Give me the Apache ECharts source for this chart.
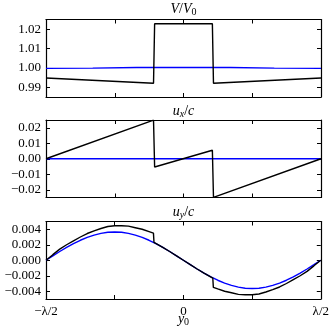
<!DOCTYPE html>
<html>
<head>
<meta charset="utf-8">
<script src="https://cdn.jsdelivr.net/npm/echarts@6/dist/echarts.min.js"></script>
<style>
  html, body { margin: 0; padding: 0; background: #fff; }
  #chart { width: 332px; height: 332px; }
</style>
</head>
<body>
<div id="chart"></div>
<script>
// x positions are in units of lambda, from -1/2 to 1/2

// V / V0
const vBlackX = [-0.5, -0.109, -0.105, 0.105, 0.109, 0.5]
const vBlackY = [0.9948, 0.9921, 1.0228, 1.0228, 0.9921, 0.9948]
const vBlueX = [-0.5, -0.33, -0.17, 0, 0.17, 0.33, 0.5]
const vBlueY = [0.9998, 0.9999, 1.0002, 1.0003, 1.0002, 0.9999, 0.9998]
const vTicks = [0.99, 1.0, 1.01, 1.02]

// ux / c
const uxBlackX = [-0.5, -0.109, -0.105, 0.105, 0.109, 0.5]
const uxBlackY = [0, 0.0249, -0.0053, 0.0055, -0.0249, 0]
const uxBlueX = [-0.5, 0, 0.5]
const uxBlueY = [0, 0, 0]
const uxTicks = [-0.02, -0.01, 0, 0.01, 0.02]

// uy / c
const uyBlackX = [-0.5, -0.475, -0.45, -0.425, -0.4, -0.375, -0.35, -0.325, -0.3, -0.275, -0.25, -0.225,
  -0.2, -0.175, -0.15, -0.125, -0.109, -0.107, -0.075, -0.05, -0.025, 0,
  0.025, 0.05, 0.075, 0.107, 0.109, 0.125, 0.15, 0.175, 0.2,
  0.225, 0.25, 0.275, 0.3, 0.325, 0.35, 0.375, 0.4, 0.425, 0.45, 0.475, 0.5]
const uyBlackY = [0, 0.00072, 0.00143, 0.0020, 0.0025, 0.0030, 0.00345, 0.0038, 0.0041, 0.00435, 0.00445, 0.00445,
  0.0044, 0.0042, 0.0040, 0.0037, 0.0035, 0.0023, 0.00166, 0.00113, 0.00057, 0,
  -0.00057, -0.00113, -0.00166, -0.0023, -0.0035, -0.0037, -0.0040, -0.0042, -0.0044,
  -0.00445, -0.00445, -0.00435, -0.0041, -0.0038, -0.00345, -0.0030, -0.0025, -0.0020, -0.00143, -0.00072, 0]
const uyBlueX = [-0.5, -0.475, -0.45, -0.425, -0.4, -0.375, -0.35, -0.325, -0.3, -0.275, -0.25,
  -0.225, -0.2, -0.175, -0.15, -0.125, -0.1, -0.075, -0.05, -0.025, 0,
  0.025, 0.05, 0.075, 0.1, 0.125, 0.15, 0.175, 0.2, 0.225, 0.25,
  0.275, 0.3, 0.325, 0.35, 0.375, 0.4, 0.425, 0.45, 0.475, 0.5]
const uyBlueY = [0, 0.00057, 0.00113, 0.00166, 0.00215, 0.00258, 0.00295, 0.00325, 0.00347, 0.00361, 0.00365,
  0.00361, 0.00347, 0.00325, 0.00295, 0.00258, 0.00215, 0.00166, 0.00113, 0.00057, 0,
  -0.00057, -0.00113, -0.00166, -0.00215, -0.00258, -0.00295, -0.00325, -0.00347, -0.00361, -0.00365,
  -0.00361, -0.00347, -0.00325, -0.00295, -0.00258, -0.00215, -0.00166, -0.00113, -0.00057, 0]
const uyTicks = [-0.004, -0.002, 0, 0.002, 0.004]

const FONT = 'Liberation Serif'
const minus = s => s.replace('-', '\u2212')

const panels = [
  { top: 19.5, min: 0.985, max: 1.025, ticks: vTicks, digits: 2, title: '{i|V}{n|/}{i|V}{s|0}', ty: 1 },
  { top: 120, min: -0.025, max: 0.025, ticks: uxTicks, digits: 2, title: '{i|u}{si|x}{n|/}{i|c}', ty: 103 },
  { top: 221.5, min: -0.005, max: 0.005, ticks: uyTicks, digits: 3, title: '{i|u}{si|y}{n|/}{i|c}', ty: 204 }
]

const base = { fontFamily: FONT, fontWeight: 'normal', color: '#000' }
const rich = {
  i: Object.assign({ fontStyle: 'italic', fontSize: 14 }, base),
  n: Object.assign({ fontSize: 14 }, base),
  s: Object.assign({ fontSize: 10, padding: [6, 0, 0, 0] }, base),
  si: Object.assign({ fontStyle: 'italic', fontSize: 10, padding: [6, 0, 0, 0] }, base)
}

const tickStyle = { inside: true, length: 4, lineStyle: { color: '#000', width: 1 } }
const lineStyle = { color: '#000', width: 1.2 }

const grid = []
const xAxis = []
const yAxis = []
const title = []
panels.forEach((p, k) => {
  grid.push({ left: 46, right: 11, top: p.top, height: 77.5 })
  title.push({
    text: p.title, left: 183.5, top: p.ty, padding: 0, textAlign: 'center',
    textStyle: Object.assign({ rich }, base)
  })
  xAxis.push({
    type: 'value', gridIndex: k, min: -0.5, max: 0.5, interval: 0.25,
    axisLine: { onZero: false, lineStyle },
    axisTick: tickStyle,
    splitLine: { show: false },
    axisLabel: {
      show: k === 2, margin: 6, fontFamily: FONT, fontSize: 13, color: '#000',
      showMinLabel: true, showMaxLabel: true,
      formatter: v => v === -0.5 ? '\u2212\u03bb/2' : v === 0 ? '0' : v === 0.5 ? '\u03bb/2' : ''
    }
  })
  xAxis.push({
    type: 'value', gridIndex: k, position: 'top', min: -0.5, max: 0.5, interval: 0.25,
    axisLine: { onZero: false, lineStyle },
    axisTick: tickStyle,
    axisLabel: { show: false },
    splitLine: { show: false }
  })
  yAxis.push({
    type: 'value', gridIndex: k, min: p.min, max: p.max,
    axisLine: { show: true, onZero: false, lineStyle },
    axisTick: Object.assign({ customValues: p.ticks }, tickStyle),
    splitLine: { show: false },
    axisLabel: {
      customValues: p.ticks, margin: 5, fontFamily: FONT, fontSize: 13, color: '#000',
      formatter: v => minus(v.toFixed(p.digits))
    }
  })
  yAxis.push({
    type: 'value', gridIndex: k, position: 'right', min: p.min, max: p.max,
    axisLine: { show: true, onZero: false, lineStyle },
    axisTick: Object.assign({ customValues: p.ticks }, tickStyle),
    axisLabel: { show: false },
    splitLine: { show: false }
  })
})

const zip = (xs, ys) => xs.map((x, i) => [x, ys[i]])
const mk = (k, xs, ys, color) => ({
  type: 'line', xAxisIndex: 2 * k, yAxisIndex: 2 * k,
  data: zip(xs, ys), showSymbol: false, silent: true, animation: false,
  lineStyle: { color, width: 1.4 }
})

const series = [
  mk(0, vBlueX, vBlueY, '#0000ff'),
  mk(0, vBlackX, vBlackY, '#000'),
  mk(1, uxBlueX, uxBlueY, '#0000ff'),
  mk(1, uxBlackX, uxBlackY, '#000'),
  mk(2, uyBlueX, uyBlueY, '#0000ff'),
  mk(2, uyBlackX, uyBlackY, '#000')
]

title.push({
  text: '{i|y}{s|0}', left: 183.5, top: 311, padding: 0, textAlign: 'center',
  textStyle: Object.assign({ rich }, base)
})

const chart = echarts.init(document.getElementById('chart'))
chart.setOption({
  animation: false,
  title,
  grid,
  xAxis,
  yAxis,
  series
})
</script>
</body>
</html>
